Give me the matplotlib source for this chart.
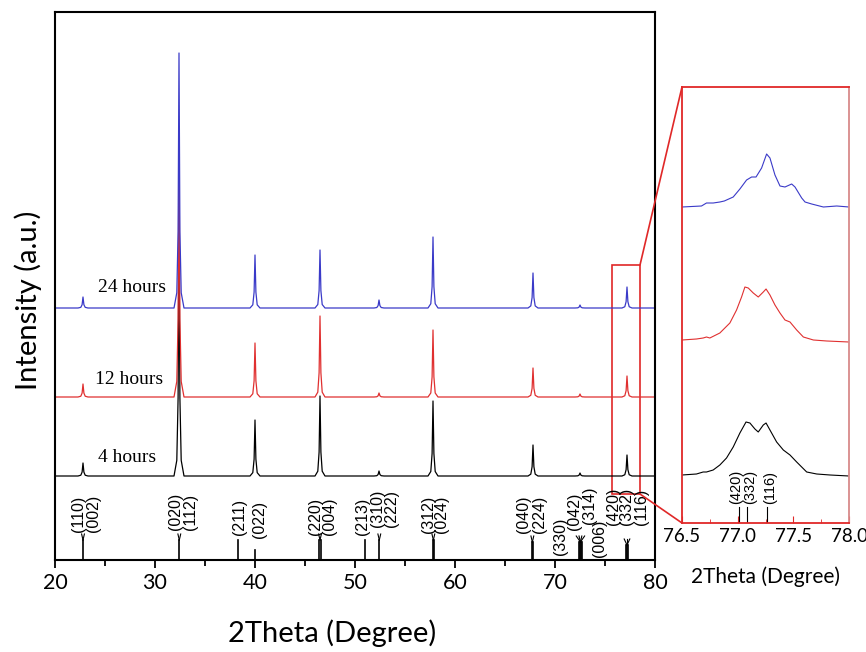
import numpy as np
import matplotlib
matplotlib.use("Agg")
from matplotlib import pyplot as plt
from matplotlib.patches import Rectangle, ConnectionPatch

plt.rcParams['font.family'] = ['Lato', 'DejaVu Sans']

# ----------------------------------------------------------------------
#  Main XRD patterns (intensity in arbitrary units, offset per sample)
peak_pos = [22.8, 32.4, 40.0, 46.5, 52.4, 57.8, 67.8, 72.5, 77.2]
samples = ['4 hours', '12 hours', '24 hours']
baselines = {'4 hours': 84, '12 hours': 163, '24 hours': 252}
heights = {
    '4 hours':  [13, 261, 56, 80, 5, 75, 31, 3, 21],
    '12 hours': [13, 260, 54, 81, 4, 67, 29, 3, 21],
    '24 hours': [11, 255, 53, 58, 8, 71, 35, 3, 21],
}
colors = {'4 hours': 'black', '12 hours': '#e03030', '24 hours': '#3a3ac8'}
label_pos = {'4 hours': (27.2, 102), '12 hours': (27.4, 180), '24 hours': (27.7, 273)}

# peak shape (offset in degrees, fraction of height)
shape_dx = [-0.5, -0.22, -0.09, 0.0, 0.09, 0.22, 0.5]
shape_fr = [0.0, 0.06, 0.3, 1.0, 0.3, 0.06, 0.0]

# reference stick pattern: stick positions, stick top, labels (x, text), label bottom
sticks = [
    ([22.8], 20, [(22.33, '(110)'), (23.83, '(002)')], 28),
    ([32.43], 20, [(32.0, '(020)'), (33.57, '(112)')], 30),
    ([38.33], 20, [(38.5, '(211)')], 25),
    ([40.0], 10, [(40.4, '(022)')], 22),
    ([46.4, 46.6], 20, [(46.0, '(220)'), (47.43, '(004)')], 25),
    ([51.0], 20, [(50.75, '(213)')], 25),
    ([52.43], 20, [(52.22, '(310)'), (53.7, '(222)')], 33),
    ([57.8, 57.87], 20, [(57.33, '(312)'), (58.67, '(024)')], 27),
    ([67.7, 67.77], 18, [(66.9, '(040)'), (68.5, '(224)')], 27),
    ([72.4, 72.5, 72.6, 72.67], 18, [(70.55, '(330)'), (71.95, '(042)'), (73.42, '(314)'), (74.45, '(006)')], None),
    ([77.1, 77.2, 77.3], 15, [(75.83, '(420)'), (77.17, '(332)'), (78.67, '(116)')], 35),
]
label_bottoms_mixed = {'(330)': 5, '(042)': 30, '(314)': 36, '(006)': 3}

# ----------------------------------------------------------------------
#  Zoomed region 76.5 - 78.0
z_blue_x = [76.5, 76.675, 76.72, 76.78, 76.84, 76.88, 76.96, 77.02, 77.08, 77.125, 77.165,
            77.215, 77.26, 77.29, 77.335, 77.38, 77.425, 77.485, 77.515, 77.575, 77.605,
            77.665, 77.77, 77.89, 78.0]
z_blue_y = [316, 317, 320, 320, 321, 322, 326, 334, 343, 346, 346, 355, 369, 365, 348,
            337, 336, 339, 336, 325, 321, 319, 316, 317, 316]
z_red_x = [76.5, 76.63, 76.69, 76.72, 76.75, 76.84, 76.93, 76.99, 77.035, 77.065, 77.095,
           77.14, 77.185, 77.23, 77.255, 77.29, 77.335, 77.38, 77.425, 77.47, 77.53, 77.59,
           77.68, 77.8, 78.0]
z_red_y = [183, 184, 185, 186, 185, 190, 200, 213, 226, 236, 235, 230, 226, 231, 234, 228,
           218, 210, 203, 201, 193, 186, 183, 182, 181]
z_black_x = [76.5, 76.63, 76.69, 76.72, 76.78, 76.84, 76.9, 76.96, 77.02, 77.075, 77.11,
             77.155, 77.185, 77.23, 77.255, 77.29, 77.35, 77.41, 77.47, 77.53, 77.62,
             77.71, 77.83, 78.0]
z_black_y = [48, 49, 51, 51, 53, 58, 65, 76, 90, 101, 100, 94, 91, 98, 100, 93, 81, 73,
             68, 61, 51, 49, 48, 47]
z_sticks = [77.013, 77.08, 77.26]
z_labels = [(76.99, '(420)'), (77.11, '(332)'), (77.29, '(116)')]

fig = plt.figure(figsize=(8.66, 6.52), dpi=100)
ax = fig.add_axes([55 / 866, 92 / 652, 600 / 866, 548 / 652])
axz = fig.add_axes([682 / 866, 129 / 652, 167 / 866, 436 / 652])

for s in samples:
    xs = [20.0]
    ys = [baselines[s]]
    for p, h in zip(peak_pos, heights[s]):
        for dx, fr in zip(shape_dx, shape_fr):
            xs.append(p + dx)
            ys.append(baselines[s] + h * fr)
    xs.append(80.0)
    ys.append(baselines[s])
    ax.plot(xs, ys, color=colors[s], lw=0.9)
    ax.text(label_pos[s][0], label_pos[s][1], s, ha='center', va='center',
            fontsize=14, family='Liberation Serif')

# stick pattern
for pos, top, labels, lab_bot in sticks:
    for p in pos:
        ax.plot([p, p], [0, top], color='black', lw=1.2)
    c = np.mean(pos)
    if len(labels) > 1:
        n = len(labels)
        for k in range(n):
            ax.plot([c, c + 0.28 * (k - (n - 1) / 2)], [top, top + 6], color='black', lw=0.8)
    for lx, txt in labels:
        b = lab_bot if lab_bot is not None else label_bottoms_mixed[txt]
        ax.text(lx, b, txt, rotation=90, ha='center', va='bottom', fontsize=11.5,
                family='Liberation Sans')

ax.set_xlim(20, 80)
ax.set_ylim(0, 548)
ax.set_yticks([])
ax.set_xticks([20, 30, 40, 50, 60, 70, 80])
ax.set_xticks(np.arange(25, 80, 10), minor=True)
ax.tick_params(axis='x', which='major', direction='out', length=6, width=1.3, labelsize=15.5)
ax.tick_params(axis='x', which='minor', direction='out', length=4, width=1.3)
for sp in ax.spines.values():
    sp.set_linewidth(1.5)
ax.set_xlabel('2Theta (Degree)', fontsize=21)
ax.xaxis.set_label_coords(0.462, -0.108)
ax.set_ylabel('Intensity (a.u.)', fontsize=21)
ax.yaxis.set_label_coords(-0.022, 0.474)

# zoom box in the main plot
red = '#e02828'
ax.add_patch(Rectangle((75.7, 66), 2.8, 229, fill=False, edgecolor=red, lw=1.2))

# inset
axz.plot(z_black_x, z_black_y, color='black', lw=0.8)
axz.plot(z_red_x, z_red_y, color='#e03030', lw=0.8)
axz.plot(z_blue_x, z_blue_y, color='#3a3ac8', lw=0.8)
for p in z_sticks:
    axz.plot([p, p], [0, 16], color='black', lw=0.8)
for lx, txt in z_labels:
    axz.text(lx, 19, txt, rotation=90, ha='center', va='bottom', fontsize=10.5,
             family='Liberation Sans')
axz.set_xlim(76.5, 78.0)
axz.set_ylim(0, 436)
axz.set_yticks([])
axz.set_xticks([76.5, 77.0, 77.5, 78.0])
axz.set_xticklabels(['76.5', '77.0', '77.5', '78.0'])
axz.set_xticks([76.75, 77.25, 77.75], minor=True)
axz.tick_params(axis='x', which='major', direction='in', length=5, color=red, labelsize=13.5)
axz.tick_params(axis='x', which='minor', direction='in', length=3, color=red)
for name, sp in axz.spines.items():
    sp.set_color(red if name != 'right' else '#d88a8a')
    sp.set_linewidth(1.3)
axz.set_xlabel('2Theta (Degree)', fontsize=15)
axz.xaxis.set_label_coords(0.5, -0.1)

for (xa, ya), (xb, yb) in [((78.5, 295), (0, 1)), ((78.5, 66), (0, 0))]:
    con = ConnectionPatch(xyA=(xa, ya), coordsA=ax.transData,
                          xyB=(xb, yb), coordsB=axz.transAxes, color=red, lw=1.2)
    fig.add_artist(con)

plt.savefig("out.png", dpi=100)
